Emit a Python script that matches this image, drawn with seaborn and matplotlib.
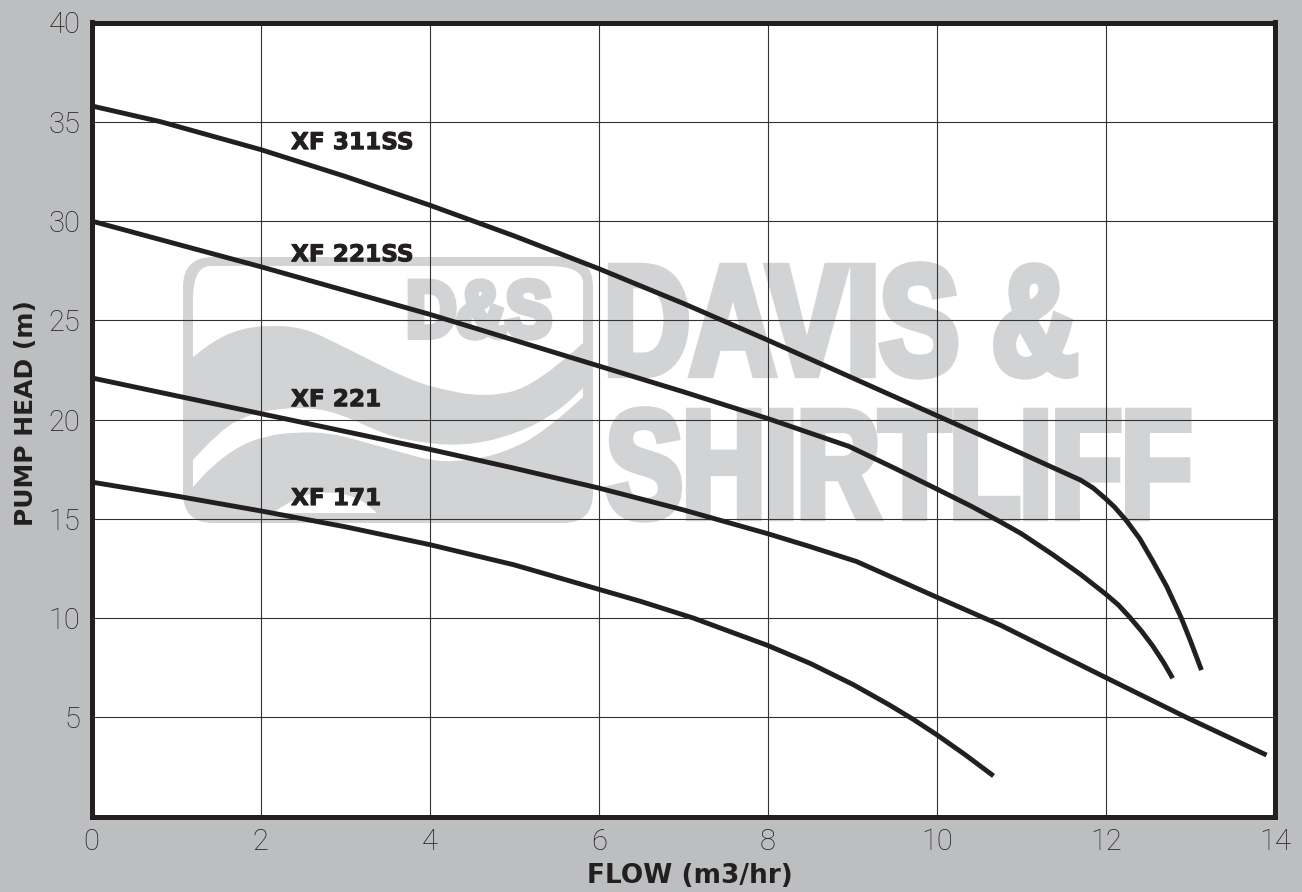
import matplotlib
matplotlib.use('Agg')
import matplotlib.pyplot as plt
import matplotlib.patheffects as pe
from matplotlib.patches import FancyBboxPatch, PathPatch
from matplotlib.path import Path
from matplotlib.transforms import Affine2D
import seaborn as sns

# curves
flow_311ss = [0, 0.82, 2, 3, 4, 5, 6, 7, 8, 9, 10, 11, 11.7, 11.85, 12, 12.1, 12.24, 12.4, 12.55, 12.72, 12.89, 13.0, 13.13]
head_311ss = [35.8, 35, 33.6, 32.25, 30.8, 29.25, 27.6, 25.85, 24, 22.1, 20.2, 18.3, 16.95, 16.55, 16, 15.6, 14.92, 14, 12.9, 11.58, 10.02, 8.85, 7.38]
flow_221ss = [0, 1, 2, 3, 4, 5, 6, 7, 8, 8.96, 9.5, 10, 10.4, 10.75, 11, 11.37, 11.7, 12, 12.15, 12.28, 12.42, 12.55, 12.68, 12.79]
head_221ss = [30, 28.85, 27.7, 26.5, 25.3, 24, 22.7, 21.4, 20.05, 18.65, 17.55, 16.5, 15.65, 14.85, 14.25, 13.2, 12.2, 11.2, 10.65, 10.05, 9.35, 8.62, 7.78, 6.97]
flow_221 = [0, 1, 2, 3, 4, 5, 6, 7, 8, 8.5, 9.05, 10, 10.75, 12, 12.95, 13.9]
head_221 = [22.1, 21.2, 20.3, 19.4, 18.5, 17.55, 16.55, 15.45, 14.25, 13.6, 12.85, 11.05, 9.65, 7, 5, 3.1]
flow_171 = [0, 1, 2, 3, 4, 5, 6, 6.49, 7.12, 7.47, 8, 8.5, 9.01, 9.44, 9.72, 10, 10.34, 10.67]
head_171 = [16.85, 16.15, 15.4, 14.6, 13.7, 12.68, 11.45, 10.85, 10, 9.45, 8.62, 7.72, 6.65, 5.62, 4.9, 4.12, 3.1, 2.05]

labels = ['XF 311SS', 'XF 221SS', 'XF 221', 'XF 171']
label_x = [2.36, 2.36, 2.36, 2.36]
label_y = [33.95, 28.3, 21.0, 16.02]
x_ticks = [0, 2, 4, 6, 8, 10, 12, 14]
y_ticks = [5, 10, 15, 20, 25, 30, 35, 40]

BG = '#bcbec0'
WM = '#d1d3d4'
INK = '#231f20'

sns.set_theme(style='white')
plt.rcParams['font.family'] = ['Roboto', 'DejaVu Sans']

W, H = 1302, 892
fig = plt.figure(figsize=(W / 100, H / 100), dpi=100, facecolor=BG)
ax = fig.add_axes([91.5 / W, (H - 816.6) / H, (1275 - 91.5) / W, (816.6 - 22.5) / H])
ax.set_facecolor('white')

# watermark is drawn in pixel coords, y going down
px = Affine2D().scale(1, -1).translate(0, H)


class Squeeze(pe.AbstractPathEffect):
    # narrows text around its left edge and fattens the strokes
    def __init__(self, sx, x0, lw):
        super().__init__()
        self.sx = sx
        self.x0 = x0
        self.lw = lw

    def draw_path(self, renderer, gc, tpath, affine, rgbFace=None):
        t = Affine2D().translate(-self.x0, 0).scale(self.sx, 1).translate(self.x0, 0)
        gc0 = renderer.new_gc()
        gc0.copy_properties(gc)
        gc0.set_linewidth(self.lw)
        gc0.set_foreground(WM)
        gc0.set_joinstyle('miter')
        renderer.draw_path(gc0, tpath, affine + t, rgbFace)
        gc0.restore()


def smooth(points):
    # quadratic spline through the midpoints
    verts = [points[0]]
    codes = [Path.LINETO]
    for a, b in zip(points[1:-1], points[2:]):
        verts += [a, ((a[0] + b[0]) / 2, (a[1] + b[1]) / 2)]
        codes += [Path.CURVE3, Path.CURVE3]
    verts.append(points[-1])
    codes.append(Path.LINETO)
    return verts, codes


def blob(pieces, color):
    verts, codes = [], []
    for p in pieces:
        v, c = smooth(p)
        verts += v
        codes += c
    codes[0] = Path.MOVETO
    verts.append(verts[0])
    codes.append(Path.CLOSEPOLY)
    ax.add_patch(PathPatch(Path(verts, codes), fc=color, ec='none', transform=px, zorder=0.2, clip_on=False))


def rbox(x0, y0, x1, y1, r, color):
    ax.add_patch(FancyBboxPatch((x0 + r, y0 + r), x1 - x0 - 2 * r, y1 - y0 - 2 * r,
                                boxstyle=f'round,pad={r},rounding_size={r}', fc=color, ec='none',
                                transform=px, zorder=0.2, clip_on=False))


def watermark(s, x, y, size, sx, lw):
    ax.text(x, y, s, transform=px, ha='left', va='baseline', color=WM, fontsize=size, fontweight='bold',
            family='Liberation Sans', zorder=0.3, path_effects=[Squeeze(sx, x, lw)])


rbox(183, 257, 593, 523, 30, WM)

# white sky above the big wave
wave_top = [(193, 357), (215, 340), (240, 329), (270, 325), (305, 328), (340, 345), (370, 360),
            (400, 375), (430, 387), (487, 398), (537, 385), (583, 343)]
blob([[(193, 300), (193, 266), (228, 266)], [(228, 266), (548, 266)], [(548, 266), (583, 266), (583, 300)],
      [(583, 300), (583, 343)], wave_top[::-1]], 'white')
# swoosh
blob([[(193, 460), (220, 430), (250, 414), (283, 408), (315, 408), (343, 415), (375, 430), (403, 440),
       (463, 447), (520, 433), (560, 410), (583, 388)],
      [(583, 388), (583, 397)],
      [(583, 397), (545, 432), (503, 453), (470, 460), (437, 462), (400, 452), (357, 440), (330, 433),
       (297, 432), (265, 436), (237, 447), (210, 468), (193, 487)]], 'white')
# small bump at the bottom
blob([[(273, 513), (295, 497), (327, 491), (358, 497), (377, 513)]], 'white')

watermark('D&S', 406.5, 336.5, 57, 0.868, 5)
watermark('DAVIS &', 604, 374, 112, 0.765, 6)
watermark('SHIRTLIFF', 606, 517, 110, 0.75, 6)

for flow, head in [(flow_311ss, head_311ss), (flow_221ss, head_221ss), (flow_221, head_221), (flow_171, head_171)]:
    sns.lineplot(x=flow, y=head, sort=False, errorbar=None, color=INK, linewidth=3.5, ax=ax, zorder=3,
                 solid_capstyle='butt', solid_joinstyle='round')

heavy = [pe.withStroke(linewidth=0.7, foreground=INK)]
for name, x, y in zip(labels, label_x, label_y):
    ax.text(x, y, name, ha='left', va='center', color=INK, fontsize=16.7, fontweight='bold',
            family='DejaVu Sans', zorder=4, path_effects=heavy)

ax.set_xlim(0, 14)
ax.set_ylim(0, 40)
ax.set_xticks(x_ticks)
ax.set_yticks(y_ticks)
ax.set_axisbelow(True)
ax.grid(True, color='#333333', linewidth=0.8)
ax.tick_params(axis='both', length=0, labelsize=21, labelcolor=INK)
ax.tick_params(axis='x', pad=8)
ax.tick_params(axis='y', pad=8)
for lab in ax.get_xticklabels() + ax.get_yticklabels():
    lab.set_fontweight('light')
for s in ax.spines.values():
    s.set_visible(True)
    s.set_linewidth(3.6)
    s.set_color(INK)

ax.set_xlabel('FLOW (m3/hr)', fontsize=19, fontweight='bold', color=INK, family='DejaVu Sans', labelpad=5, x=0.506)
ax.set_ylabel('PUMP HEAD (m)', fontsize=18, fontweight='bold', color=INK, family='DejaVu Sans', labelpad=7.5, y=0.508)

fig.savefig('out.png', dpi=100, facecolor=BG)
